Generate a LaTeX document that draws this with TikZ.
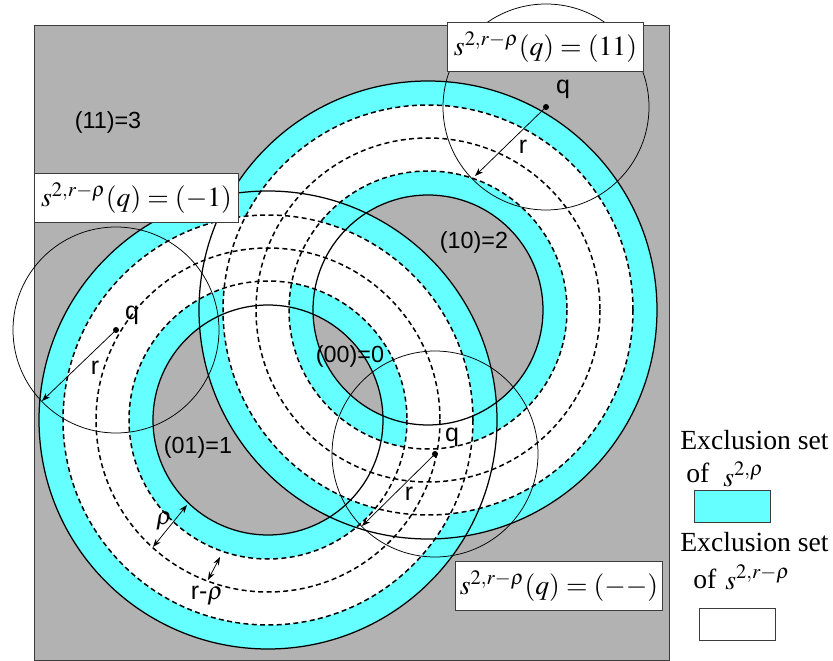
\documentclass[tikz,border=0pt]{standalone}
\usepackage{mathptmx}
\usepackage{fontspec}
\setmainfont{Liberation Serif}
\setsansfont{Liberation Sans}
\usetikzlibrary{arrows.meta}
\definecolor{Shade}{RGB}{178,178,178}
\definecolor{Excl}{RGB}{102,255,255}
\definecolor{Frame}{RGB}{60,60,60}
\tikzset{
  rlabel/.style={font=\sffamily\fontsize{14}{16}\selectfont,inner sep=0pt},
  qlabel/.style={font=\sffamily\fontsize{15}{17}\selectfont,inner sep=0pt},
  mbox/.style={rectangle,draw=Frame,fill=white,line width=0.6pt,
               font=\fontsize{16.6}{19}\selectfont,minimum height=29pt,inner sep=2pt},
  ltext/.style={font=\fontsize{16.6}{19}\selectfont,inner sep=0pt,anchor=base west},
  keybox/.style={rectangle,draw=Frame,line width=0.6pt,minimum width=45.6pt,
                 minimum height=19.2pt,inner sep=0pt},
  qdot/.style={circle,fill=black,inner sep=0pt,minimum size=3.6pt},
  ringline/.style={black,line width=0.75pt},
  ringdash/.style={black,line width=0.9pt,dash pattern=on 3pt off 2pt},
  qcirc/.style={black,line width=0.45pt},
  redge/.style={-{Stealth[length=5pt,width=3.6pt]},line width=0.45pt},
  dedge/.style={{Stealth[length=5pt,width=3.6pt]}-{Stealth[length=5pt,width=3.6pt]},line width=0.45pt},
}

\begin{document}
\begin{tikzpicture}[x=0.6pt,y=-0.6pt]
  \useasboundingbox (0,0) rectangle (833,661);
  \fill[white] (0,0) rectangle (833,661);
  \filldraw[fill=Shade,draw=Frame,line width=0.6pt] (34,26) rectangle (669,660);
  % the two rings
  \coordinate (c1) at (268,420);
  \coordinate (c2) at (428,310);
  \foreach \c in {c1,c2}
    \fill[Excl,even odd rule] (\c) circle[radius=229] (\c) circle[radius=115];
  \foreach \c in {c1,c2}
    \fill[white,even odd rule] (\c) circle[radius=205] (\c) circle[radius=139];
  \foreach \c in {c1,c2} {
    \foreach \rr in {139,172,205}
      \draw[ringdash] (\c) circle[radius=\rr];
  }
  \foreach \c in {c1,c2}
    \draw[ringline] (\c) circle[radius=115] (\c) circle[radius=229];
  % test points and their balls
  \node[qdot] (q1) at (546,107) {};
  \node[qdot] (q2) at (116,330) {};
  \node[qdot] (q3) at (435,454) {};
  \foreach \q in {q1,q2,q3}
    \draw[qcirc] (\q.center) circle[radius=103];
  \coordinate (t1) at (475,176);
  \coordinate (t2) at (42,401);
  \coordinate (t3) at (362,526);
  \draw[redge] (q1.center) -- (t1);
  \draw[redge] (q2.center) -- (t2);
  \draw[redge] (q3.center) -- (t3);
  \node[qlabel] (q1l) at (563,89) {q};
  \node[qlabel] (q2l) at (132,315) {q};
  \node[qlabel] (q3l) at (452,437) {q};
  \node[qlabel] (r1l) at (523,147) {r};
  \node[qlabel] (r2l) at (95,368) {r};
  \node[qlabel] (r3l) at (409,494) {r};
  % widths
  \coordinate (rho1) at (153,547);
  \coordinate (rho2) at (187,505);
  \coordinate (rmr1) at (220,557);
  \coordinate (rmr2) at (208,580);
  \draw[dedge] (rho1) -- (rho2);
  \draw[dedge] (rmr1) -- (rmr2);
  \node[qlabel] (rhol) at (164,521) {$\rho$};
  \node[qlabel] (rmrl) at (207,596) {r-$\rho$};
  % regions
  \node[rlabel] (reg3) at (108,122) {(11)=3};
  \node[rlabel] (reg2) at (474,242) {(10)=2};
  \node[rlabel] (reg0) at (350,356) {(00)=0};
  \node[rlabel] (reg1) at (198,447) {(01)=1};
  % sign values
  \node[mbox,minimum width=118pt] (b1) at (545.5,47) {$s^{2,r-\rho}(q)=(11)$};
  \node[mbox,minimum width=122pt] (b2) at (136.5,198) {$s^{2,r-\rho}(q)=(-1)$};
  \node[mbox,minimum width=124pt] (b3) at (559,586) {$s^{2,r-\rho}(q)=(--)$};
  % legend
  \node[ltext] (ex1) at (680,449) {Exclusion set};
  \node[ltext] (of1) at (686,482) {of};
  \node[ltext] (s1) at (723,486) {$s^{2,\rho}$};
  \node[keybox,fill=Excl] (k1) at (732,506) {};
  \node[ltext] (ex2) at (680,551) {Exclusion set};
  \node[ltext] (of2) at (693,588) {of};
  \node[ltext] (s2) at (725,589) {$s^{2,r-\rho}$};
  \node[keybox,fill=white] (k2) at (737.5,624) {};
\end{tikzpicture}
\end{document}
